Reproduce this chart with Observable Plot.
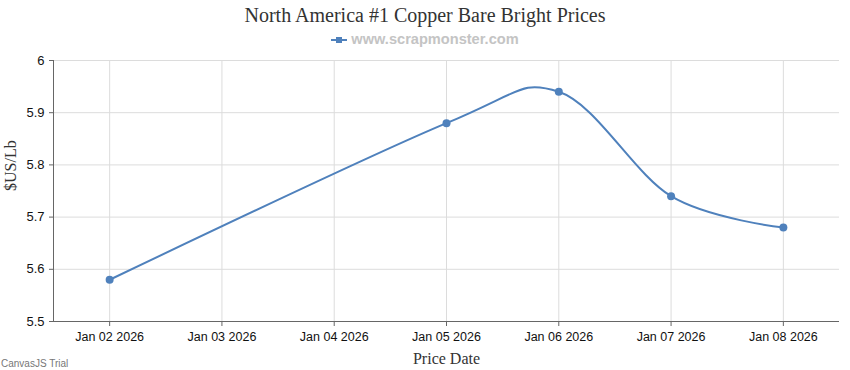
<!DOCTYPE html>
<html>
<head>
<meta charset="utf-8">
<script src="https://cdn.jsdelivr.net/npm/d3@7"></script>
<script src="https://cdn.jsdelivr.net/npm/@observablehq/plot@0.6"></script>
<style>
  body { margin: 0; background: #fff; width: 850px; height: 370px; position: relative; overflow: hidden; }
  #title { position: absolute; top: 4px; left: 0; width: 850px; text-align: center; font-family: "Liberation Serif", serif; font-size: 20px; color: #333; }
  #legend { position: absolute; top: 31px; left: 0; width: 850px; text-align: center; font-family: "Liberation Sans", sans-serif; font-weight: bold; font-size: 14.6px; color: #c4c4c4; }
  #legend svg { vertical-align: middle; margin-right: 4px; }
  #chart { position: absolute; top: 52px; left: 0; }
  #trial { position: absolute; left: 1px; top: 358px; font-family: "Liberation Sans", sans-serif; font-size: 10px; color: #777; }
</style>
</head>
<body>
<div id="title">North America #1 Copper Bare Bright Prices</div>
<div id="legend"><svg width="16" height="8"><line x1="0" y1="4" x2="16" y2="4" stroke="#4f81bc" stroke-width="2"/><rect x="5" y="1" width="6" height="6" fill="#4f81bc"/></svg>www.scrapmonster.com</div>
<div id="chart"></div>
<div id="trial">CanvasJS Trial</div>
<script>
const dates = ["2026-01-02", "2026-01-05", "2026-01-06", "2026-01-07", "2026-01-08"];
const prices = [5.58, 5.88, 5.94, 5.74, 5.68];
const tickDates = ["2026-01-02", "2026-01-03", "2026-01-04", "2026-01-05", "2026-01-06", "2026-01-07", "2026-01-08"];
const yTicks = [5.5, 5.6, 5.7, 5.8, 5.9, 6];

const data = dates.map((d, i) => ({date: new Date(d + "T00:00:00Z"), price: prices[i]}));
const ticks = tickDates.map(d => new Date(d + "T00:00:00Z"));
const fmt = d3.utcFormat("%b %d %Y");
const half = 12 * 3600 * 1000;

const plot = Plot.plot({
  width: 850,
  height: 318,
  marginLeft: 53,
  marginRight: 11,
  marginTop: 8,
  marginBottom: 49,
  style: {fontFamily: "Liberation Sans, sans-serif", fontSize: "12px", color: "#111", background: "#fff"},
  x: {type: "utc", domain: [new Date(ticks[0] - half), new Date(+ticks[6] + half)]},
  y: {domain: [5.5, 6]},
  marks: [
    Plot.gridX(ticks, {stroke: "#dcdcdc", strokeOpacity: 1}),
    Plot.gridY(yTicks, {stroke: "#dcdcdc", strokeOpacity: 1}),
    Plot.axisX({ticks, tickFormat: fmt, tickSize: 5, tickPadding: 6, stroke: "#666", fontSize: 12.5, label: null}),
    Plot.axisY({ticks: yTicks, tickFormat: d => String(d), tickSize: 4, tickPadding: 5, stroke: "#666", fontSize: 13, label: null}),
    Plot.ruleY([5.5], {stroke: "#666"}),
    Plot.ruleX([new Date(ticks[0] - half)], {stroke: "#666"}),
    Plot.line(data, {x: "date", y: "price", curve: "cardinal", stroke: "#4f81bc", strokeWidth: 2}),
    Plot.dot(data, {x: "date", y: "price", r: 4, fill: "#4f81bc", stroke: "none"}),
    Plot.text(["Price Date"], {frameAnchor: "bottom", dy: 42, fontFamily: "Liberation Serif, serif", fontSize: 16, fill: "#333"}),
    Plot.text(["$US/Lb"], {frameAnchor: "left", dx: -43, rotate: -90, fontFamily: "Liberation Serif, serif", fontSize: 16, fill: "#333"})
  ]
});
document.getElementById("chart").appendChild(plot);
</script>
</body>
</html>
